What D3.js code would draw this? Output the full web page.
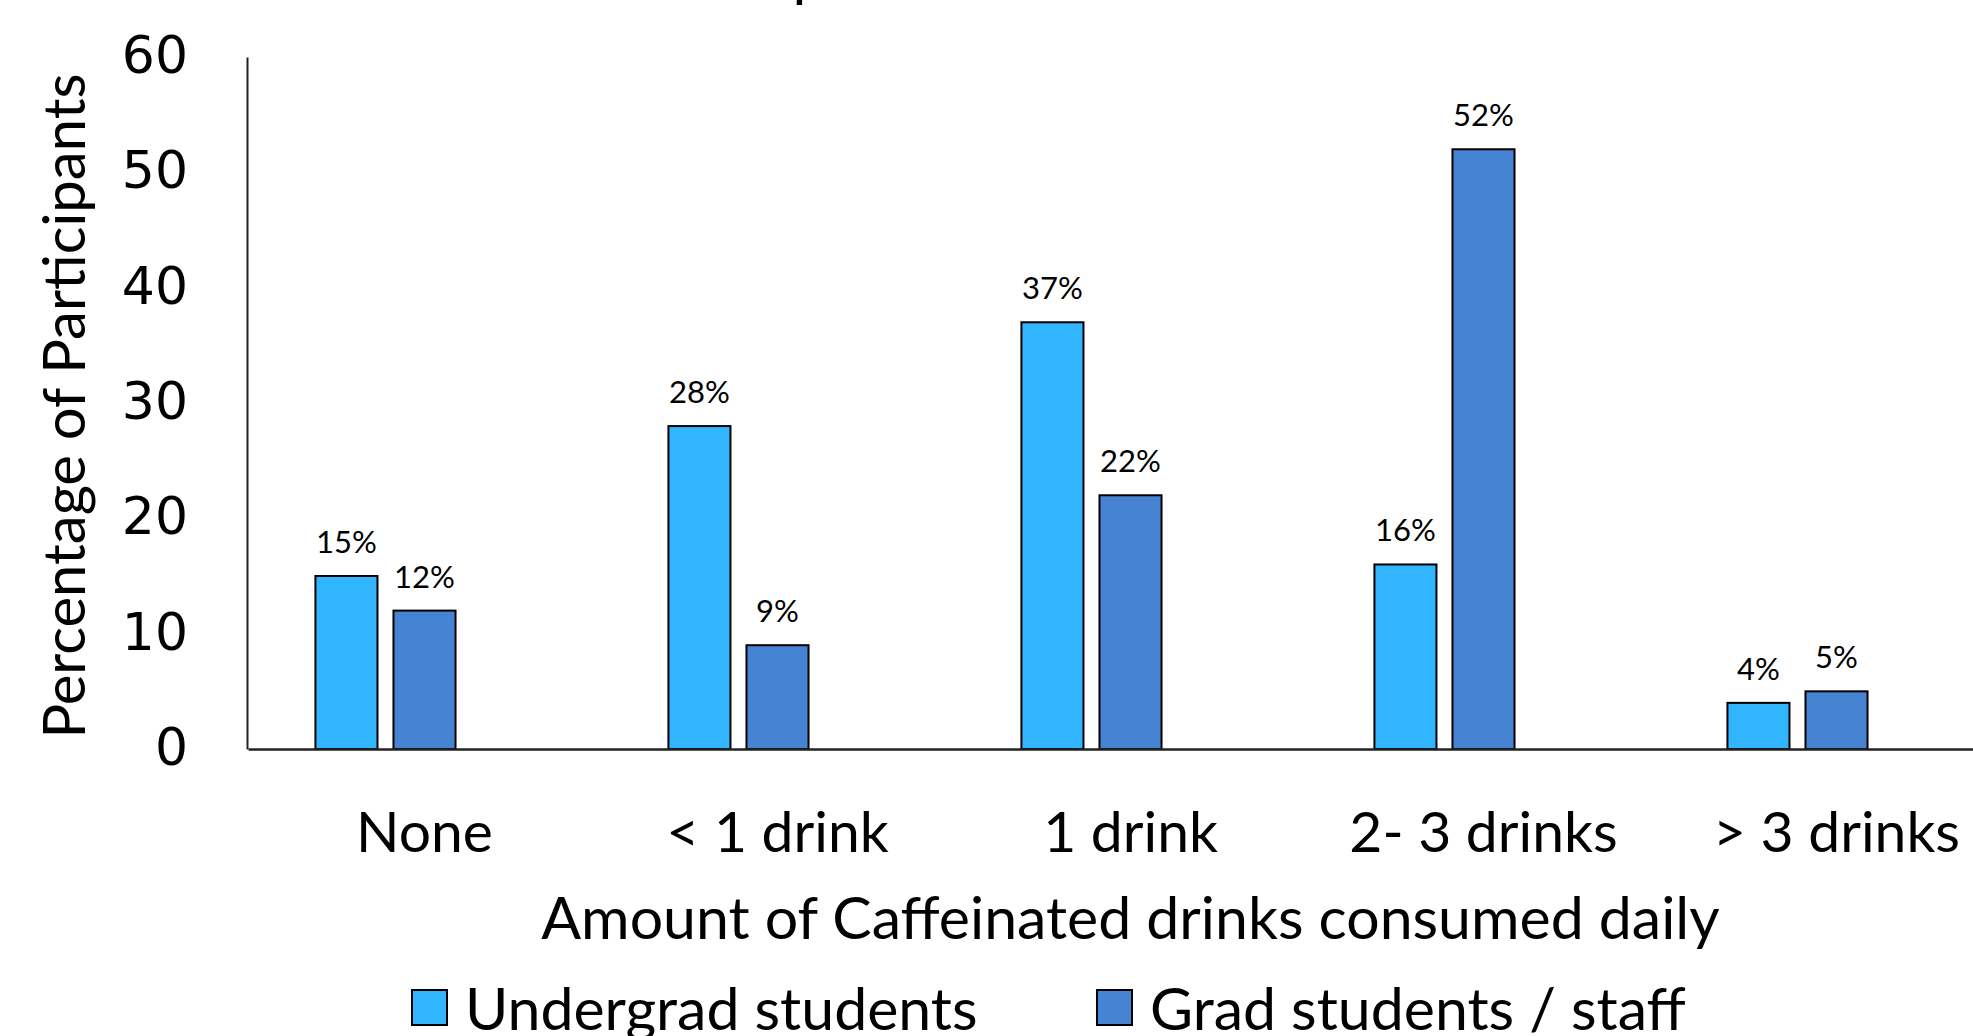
<!DOCTYPE html>
<html>
<head>
<meta charset="utf-8">
<script src="https://cdn.jsdelivr.net/npm/d3@7"></script>
<style>
  html, body { margin: 0; padding: 0; background: #fff; overflow: hidden; }
  svg { display: block; }
</style>
</head>
<body>
<svg id="chart" width="1973" height="1036"></svg>
<script>
// Daily caffeinated drinks by participant group (percent of participants)
const categories = ["None", "< 1 drink", "1 drink", "2- 3 drinks", "> 3 drinks"];
const seriesNames = ["Undergrad students", "Grad students / staff"];
const undergrad = [15, 28, 37, 16, 4];
const grad = [12, 9, 22, 52, 5];
const yTicks = [0, 10, 20, 30, 40, 50, 60];
const seriesColors = ["#31B5FF", "#4783D3"];

const titleText = "Participants' Caffeine Intake: Students vs Staff";
const xTitle = "Amount of Caffeinated drinks consumed daily";
const yTitle = "Percentage of Participants";

const svg = d3.select("#chart");

// plot area (right side of the category axis runs past the page edge)
const plot = { left: 248, right: 2013, top: 57, bottom: 749 };

const x0 = d3.scaleBand()
  .domain(categories)
  .range([plot.left, plot.right])
  .paddingInner(0.382)
  .paddingOuter(0.191);

// three slots per category; the two series fill the first two
const x1 = d3.scaleBand()
  .domain([0, 1, 2])
  .range([0, x0.bandwidth()])
  .paddingInner(0.205);

const y = d3.scaleLinear().domain([0, 60]).range([plot.bottom, plot.top]);

const labelFont = "Lato, 'Open Sans', sans-serif";
const tickFont = "'DejaVu Sans', Verdana, sans-serif";

// chart title (sits above the top edge)
svg.append("text")
  .attr("x", 1228).attr("y", -5)
  .attr("text-anchor", "middle")
  .style("font-family", labelFont)
  .style("font-size", "60px")
  .attr("fill", "#000")
  .text(titleText);

// bars
const rows = categories.map((c, i) => ({ cat: c, values: [undergrad[i], grad[i]] }));

const groups = svg.append("g").selectAll("g")
  .data(rows).join("g")
  .attr("transform", d => `translate(${x0(d.cat)},0)`);

groups.selectAll("rect")
  .data(d => d.values.map((v, s) => ({ v, s })))
  .join("rect")
  .attr("x", d => x1(d.s))
  .attr("y", d => y(d.v))
  .attr("width", x1.bandwidth())
  .attr("height", d => y(0) - y(d.v))
  .attr("fill", d => seriesColors[d.s])
  .attr("stroke", "#000")
  .attr("stroke-width", 2);

groups.selectAll("text.val")
  .data(d => d.values.map((v, s) => ({ v, s })))
  .join("text")
  .attr("class", "val")
  .attr("x", d => x1(d.s) + x1.bandwidth() / 2)
  .attr("y", d => y(d.v) - 23)
  .attr("text-anchor", "middle")
  .style("font-family", labelFont)
  .style("font-size", "31px")
  .attr("fill", "#000")
  .text(d => d.v + "%");

// y axis
const yAxis = d3.axisLeft(y).tickValues(yTicks).tickSize(0).tickPadding(59);
const gy = svg.append("g").attr("transform", `translate(${plot.left - 1},0)`).call(yAxis);
gy.select(".domain").attr("stroke", "#222").attr("stroke-width", 2);
gy.selectAll(".tick text")
  .style("font-family", tickFont)
  .style("font-size", "52px")
  .attr("fill", "#000")
  .attr("dy", "0.3em");

// x axis
const xAxis = d3.axisBottom(x0).tickSize(0).tickPadding(0);
const gx = svg.append("g").attr("transform", `translate(0,${plot.bottom})`).call(xAxis);
gx.select(".domain").attr("stroke", "#222").attr("stroke-width", 2.5);
gx.selectAll(".tick text")
  .style("font-family", labelFont)
  .style("font-size", "57px")
  .attr("fill", "#000")
  .attr("y", 0)
  .attr("dy", 0)
  .attr("transform", "translate(0,103)");

// axis titles
svg.append("text")
  .attr("transform", `translate(85,406) rotate(-90)`)
  .attr("text-anchor", "middle")
  .style("font-family", labelFont)
  .style("font-size", "58px")
  .attr("fill", "#000")
  .text(yTitle);

svg.append("text")
  .attr("x", (plot.left + plot.right) / 2)
  .attr("y", 939)
  .attr("text-anchor", "middle")
  .style("font-family", labelFont)
  .style("font-size", "59px")
  .attr("fill", "#000")
  .text(xTitle);

// legend
const legendX = [412, 1097];
const legend = svg.append("g").selectAll("g")
  .data(seriesNames).join("g")
  .attr("transform", (d, i) => `translate(${legendX[i]},990)`);
legend.append("rect")
  .attr("width", 35).attr("height", 35)
  .attr("fill", (d, i) => seriesColors[i])
  .attr("stroke", "#000").attr("stroke-width", 2);
legend.append("text")
  .attr("x", 53).attr("y", 40)
  .style("font-family", labelFont)
  .style("font-size", "59px")
  .attr("fill", "#000")
  .text(d => d);
</script>
</body>
</html>
